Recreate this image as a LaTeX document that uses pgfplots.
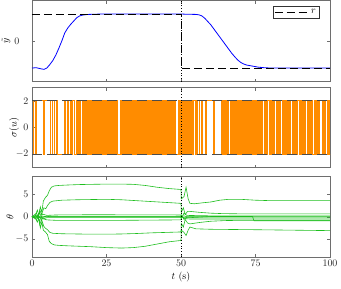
\documentclass[border=0pt]{standalone}
\usepackage{pgfplots}
\pgfplotsset{compat=1.18}
\definecolor{myorange}{RGB}{255,140,0}
\definecolor{mygreen}{RGB}{30,190,30}
\definecolor{axgray}{RGB}{110,110,110}
\pgfplotsset{myax/.style={
  scale only axis, width=298bp,
  xmin=0, xmax=100, xtick={0,25,50,75,100},
  tick align=inside, major tick length=3bp,
  axis line style={axgray, line width=0.6pt},
  tick style={axgray, line width=0.5pt},
  ylabel style={anchor=center},
  every tick label/.append style={font=\normalsize, text=black!85},
},
gl/.style={mygreen, line width=0.6pt, no marks, solid}}
\begin{document}
\begin{tikzpicture}
\path[use as bounding box] (-32bp,0.5bp) rectangle (309bp,-288.5bp);
% ---------------- panel 1 ----------------
\begin{axis}[myax, at={(0,0)}, anchor=north west, height=81bp,
  ymin=-1.5, ymax=1.5, ytick={0}, xticklabels={},
  yticklabel style={xshift=-9bp},
  ylabel={$\tilde{y}$}, ylabel style={at={(axis description cs:-0.087,0.5)}},
  legend style={at={(rel axis cs:0.963,0.926)}, anchor=north east, draw=black!80, font=\normalsize, inner sep=1pt, row sep=0pt},
  legend image code/.code={\draw[#1] (0bp,0bp) -- (34bp,0bp);}]
\addplot[blue, line width=0.8pt, forget plot] coordinates {
(0,-1.0)(1.5,-0.99)(3,-1.03)(4,-1.05)(5,-1.0)(6,-0.87)(7,-0.72)(8,-0.52)(9,-0.27)(10,0.0)(11,0.3)(12,0.48)(13,0.62)(14,0.74)(15,0.86)(16,0.93)(17,0.96)(18,0.975)(19,0.985)(21,0.99)(23,1.0)(50,1.0)(52,0.99)(55,0.985)(56,0.97)(57,0.93)(58,0.84)(59,0.72)(60,0.6)(61,0.45)(62,0.3)(63,0.15)(64,0.0)(65,-0.15)(66,-0.3)(67,-0.45)(68,-0.58)(69,-0.7)(70,-0.79)(71,-0.85)(72,-0.89)(73,-0.91)(74,-0.93)(75,-0.95)(76,-0.97)(78,-0.99)(80,-1.0)(100,-1.0)};
\addplot[black, line width=0.8pt, dash pattern=on 8bp off 4bp] coordinates {(0,1)(50,1)(50,-1)(100,-1)};
\addlegendentry{$r$}
\addplot[black, dotted, line width=0.7pt, forget plot] coordinates {(50,-1.5)(50,1.5)};
\end{axis}
% ---------------- panel 2 ----------------
\begin{axis}[myax, at={(0,-87bp)}, anchor=north west, height=80bp,
  ymin=-3, ymax=3, ytick={-2,0,2}, xticklabels={},
  ylabel={$\sigma(u)$}, ylabel style={at={(axis description cs:-0.060,0.5)}}]
\addplot[myorange, line width=0.8pt, const plot] coordinates {
(0,2)(0.4,-2)(0.6,2)(1.0,-2)(1.4,2)(3.9,-2)(4.3,2)(6.3,-2)(6.7,2)(7.5,-2)(8.2,2)(8.6,-2)(11.0,2)(11.3,-2)(11.8,2)(12.2,-2)(12.9,2)(13.2,-2)(13.7,2)(14.3,-2)(14.8,2)(15.2,-2)(15.6,2)(16.0,-2)(16.4,2)(16.8,-2)
(17.0,2)(17.25,-2)(17.5,2)(17.75,-2)(18.0,2)(18.25,-2)(18.5,2)(18.75,-2)(19.0,2)(19.25,-2)(19.5,2)(19.75,-2)
(20.0,2)(20.25,-2)(20.5,2)(20.75,-2)(21.0,2)(21.25,-2)(21.5,2)(21.75,-2)(22.0,2)(22.25,-2)(22.5,2)(22.75,-2)
(23.0,2)(23.25,-2)(23.5,2)(23.75,-2)(24.0,2)(24.25,-2)(24.5,2)(24.75,-2)(25.0,2)(25.25,-2)(25.5,2)(25.75,-2)
(26.0,2)(26.25,-2)(26.5,2)(26.75,-2)(27.0,2)(27.25,-2)(27.5,2)(27.75,-2)(28.0,2)(28.25,-2)(28.5,2)(28.75,-2)
(29.5,2)(29.75,-2)(30.0,2)(30.25,-2)(30.5,2)(30.75,-2)(31.0,2)(31.25,-2)(31.5,2)(31.75,-2)
(32.0,2)(32.25,-2)(32.5,2)(32.75,-2)(33.0,2)(33.25,-2)(33.5,2)(33.75,-2)(34.0,2)(34.25,-2)(34.5,2)(34.75,-2)
(35.0,2)(35.25,-2)(35.5,2)(35.75,-2)(36.0,2)(36.25,-2)(36.5,2)(36.75,-2)(37.0,2)(37.25,-2)(37.5,2)(37.75,-2)
(38.0,2)(38.25,-2)(38.5,2)(38.75,-2)(39.0,2)(39.25,-2)(39.5,2)(39.75,-2)(40.0,2)(40.25,-2)(40.5,2)(40.75,-2)
(41.0,2)(41.25,-2)(41.5,2)(41.75,-2)(42.0,2)(42.25,-2)(42.5,2)(42.75,-2)(43.0,2)(43.25,-2)(43.5,2)(43.75,-2)
(44.0,2)(44.25,-2)(44.5,2)(44.75,-2)(45.0,2)(45.25,-2)(45.5,2)(45.75,-2)(46.0,2)(46.25,-2)(46.5,2)(46.75,-2)
(47.0,2)(47.25,-2)(47.5,2)(47.75,-2)(48.0,2)(48.25,-2)(49.0,2)(49.25,-2)(49.5,2)(49.75,-2)
(50.0,2)(50.25,-2)(50.5,2)(50.75,-2)(51.0,2)(51.25,-2)(51.5,2)(51.75,-2)(52.0,2)(52.25,-2)(52.5,2)(52.75,-2)
(53.0,2)(53.25,-2)(53.5,2)(53.75,-2)(54.0,2)
(54.8,-2)(55.1,2)(55.5,-2)(56.3,2)(57.0,-2)(57.3,2)(58.2,-2)(58.5,2)(60.8,-2)(61.2,2)
(63.5,-2)(63.75,2)(64.0,-2)(64.25,2)(64.5,-2)(64.75,2)(65.0,-2)(65.25,2)(65.5,-2)(65.75,2)
(66.5,-2)(66.75,2)(67.0,-2)(67.25,2)(67.5,-2)(67.75,2)(68.0,-2)(68.25,2)(68.5,-2)(68.75,2)
(69.0,-2)(69.25,2)(69.5,-2)(69.75,2)(70.0,-2)(70.25,2)(70.5,-2)(70.75,2)(71.0,-2)(71.25,2)(71.5,-2)(71.75,2)
(72.0,-2)(72.25,2)(72.5,-2)(72.75,2)(73.0,-2)(73.25,2)(73.5,-2)(73.75,2)(74.0,-2)(74.25,2)(74.5,-2)(74.75,2)
(75.0,-2)(75.25,2)(75.5,-2)(75.75,2)(76.0,-2)(76.25,2)(76.5,-2)
(76.8,2)(77.1,-2)(77.4,2)(78.0,-2)(78.3,2)(78.6,-2)(78.9,2)(79.6,-2)(79.9,2)(80.2,-2)(80.5,2)(80.8,-2)(81.1,2)(81.4,-2)
(82.1,2)(82.4,-2)(82.7,2)(83.0,-2)(83.3,2)(84.1,-2)(84.4,2)(84.7,-2)(85.0,2)(85.3,-2)(85.6,2)(85.9,-2)(86.2,2)(86.5,-2)(86.8,2)
(87.5,-2)(87.8,2)(88.1,-2)(88.4,2)(88.7,-2)(89.0,2)(89.6,-2)(89.9,2)(90.2,-2)(90.5,2)(90.8,-2)(91.1,2)(91.4,-2)(91.7,2)
(92.4,-2)(92.7,2)(93.0,-2)(93.3,2)(93.6,-2)(93.9,2)(94.2,-2)(94.8,2)(95.1,-2)(95.4,2)(95.7,-2)(96.0,2)(96.3,-2)(96.6,2)
(97.3,-2)(97.6,2)(97.9,-2)(98.2,2)(98.5,-2)(99.0,2)(99.3,-2)(99.6,2)(99.9,-2)(100,-2)};
\addplot[black!70, line width=1.1pt, dash pattern=on 10bp off 5bp] coordinates {(0,2)(100,2)};
\addplot[black!70, line width=1.1pt, dash pattern=on 10bp off 5bp] coordinates {(0,-2)(100,-2)};
\addplot[black, dotted, line width=0.7pt] coordinates {(50,-3)(50,3)};
\end{axis}
% ---------------- panel 3 ----------------
\begin{axis}[myax, at={(0,-176bp)}, anchor=north west, height=80.5bp,
  ymin=-9, ymax=9, ytick={-5,0,5},
  xlabel={$t$ (s)}, xlabel style={yshift=2bp},
  ylabel={$\theta$}, ylabel style={at={(axis description cs:-0.074,0.5)}}]
\addplot[gl] coordinates {(0,0)(1.0,0.1)(1.8,1.5)(2.3,0.3)(2.8,2.2)(3.3,1.0)(3.8,3.5)(4.5,4.3)(5.2,4.8)(5.8,5.8)(6.5,6.6)(7.5,6.9)(9,7.0)(12,7.1)(16,7.2)(20,7.25)(25,7.3)(30,7.3)(34,7.25)(38,7.0)(42,6.6)(46,6.3)(50,6.1)(50.1,4.0)(51.0,4.5)(51.7,6.6)(52.4,4.0)(53.0,3.0)(54.5,2.9)(57,3.1)(60,3.3)(63,3.7)(66,3.9)(70,3.9)(75,3.7)(80,3.6)(100,3.6)};
\addplot[gl] coordinates {(0,0)(1.0,-0.1)(1.8,-1.2)(2.3,-0.3)(2.8,-2.5)(3.3,-1.2)(3.8,-3.0)(4.5,-3.4)(5.2,-4.0)(5.8,-5.5)(6.5,-6.0)(7.5,-6.3)(9,-6.4)(12,-6.5)(16,-6.6)(20,-6.7)(25,-6.9)(30,-7.0)(34,-6.9)(38,-6.6)(42,-6.1)(46,-5.6)(50,-5.3)(50.1,-3.0)(51.0,-3.5)(51.7,-4.2)(52.4,-3.0)(53.0,-2.3)(55,-2.7)(60,-2.8)(75,-2.9)(100,-3.1)};
\addplot[gl] coordinates {(0,0)(1.2,0.3)(2.0,-0.5)(2.6,1.5)(3.2,0.5)(4.0,2.0)(4.6,1.8)(5.2,2.5)(6.0,3.2)(7,3.5)(10,3.7)(15,3.8)(20,3.85)(25,3.9)(30,3.8)(35,3.6)(40,3.4)(45,3.2)(50,3.0)(50.1,1.0)(50.8,2.0)(51.4,0.5)(52.2,1.2)(53,1.2)(56,1.0)(60,0.8)(64,0.7)(70,0.65)(100,0.65)};
\addplot[gl] coordinates {(0,0)(1.2,-0.3)(2.0,0.5)(2.6,-1.8)(3.2,-0.6)(4.0,-2.2)(4.6,-2.6)(5.2,-2.9)(6.0,-3.5)(7,-3.7)(10,-3.8)(15,-3.85)(20,-3.9)(25,-3.9)(30,-3.85)(35,-3.75)(40,-3.6)(45,-3.5)(50,-3.4)(50.1,-1.5)(50.8,-2.3)(51.4,-0.6)(52.2,-1.4)(53,-1.6)(56,-1.3)(60,-1.0)(65,-0.85)(70,-0.8)(100,-0.8)};
\addplot[gl] coordinates {(0,0)(1.5,0.8)(2.5,-1.0)(3.5,0.6)(5,0.3)(8,0.4)(20,0.45)(50,0.4)(50.1,-0.4)(51,0.8)(52,0.3)(60,0.2)(100,0.2)};
\addplot[gl] coordinates {(0,0)(1.5,-0.6)(2.5,0.9)(3.5,-0.5)(5,-0.2)(8,-0.2)(50,-0.2)(50.1,0.4)(51,-0.6)(52,-0.1)(100,-0.1)};
\addplot[gl] coordinates {(0,0)(2,0.3)(3,-0.3)(5,-0.7)(8,-0.8)(30,-0.8)(50,-0.7)(50.1,0.1)(51,-0.4)(53,-0.5)(75,-0.5)(100,-0.5)};
\addplot[gl] coordinates {(0,0)(3,0.1)(6,0.0)(50,0.0)(51,0.2)(52,0)(100,0.0)};
\addplot[gl] coordinates {(0,0)(3,-0.2)(6,0.1)(50,0.1)(51,-0.2)(53,-0.2)(60,0.05)(74,0.05)(74.5,-0.9)(100,-0.9)};
\addplot[black, dotted, line width=0.7pt] coordinates {(50,-9)(50,9)};
\end{axis}
\end{tikzpicture}
\end{document}
